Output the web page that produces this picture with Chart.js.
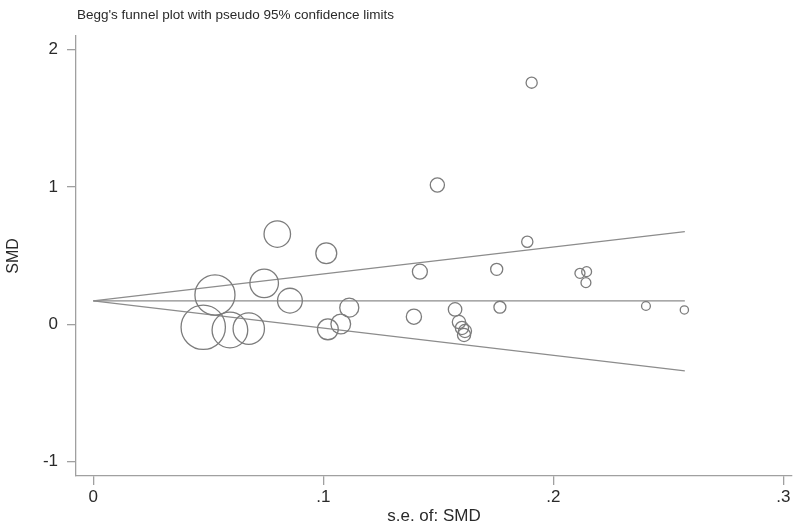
<!DOCTYPE html>
<html>
<head>
<meta charset="utf-8">
<title>Begg's funnel plot</title>
<script src="https://cdn.jsdelivr.net/npm/chart.js@4.4.0/dist/chart.umd.min.js"></script>
<style>
  html, body { margin: 0; padding: 0; background: #fff; }
  #wrap { width: 800px; height: 527px; }
</style>
</head>
<body>
<div id="wrap"><canvas id="funnel" width="800" height="527"></canvas></div>
<script>
// datos (s.e. of SMD vs SMD), un estudio por posicion
const seValues = [
  0.0478, 0.0529, 0.0594, 0.0676, 0.0743, 0.0800, 0.0855,
  0.1013, 0.1020, 0.1076, 0.1113, 0.1394, 0.1420, 0.1496,
  0.1573, 0.1590, 0.1603, 0.1616, 0.1612, 0.1754, 0.1768,
  0.1887, 0.1906, 0.2116, 0.2145, 0.2142, 0.2403, 0.2570,
];
const smdValues = [
  -0.021, 0.214, -0.041, -0.031, 0.299, 0.658, 0.173,
  0.518, -0.036, 0.003, 0.122, 0.056, 0.384, 1.015,
  0.109, 0.017, -0.026, -0.048, -0.077, 0.401, 0.125,
  0.602, 1.760, 0.372, 0.384, 0.304, 0.134, 0.105,
];

// limites pseudo 95% (extremos)
const limitSE = [0, 0.2572];
const centerSMD = [0.171, 0.171];
const upperSMD = [0.171, 0.675];
const lowerSMD = [0.171, -0.339];

const xTicks = [0, 0.1, 0.2, 0.3];
const yTicks = [-1, 0, 1, 2];

const chartTitle = "Begg's funnel plot with pseudo 95% confidence limits";
const xTitle = "s.e. of: SMD";
const yTitle = "SMD";

const FONT = '"Liberation Sans", Arial, sans-serif';
const TEXT = "#2a2a2a";
const AXIS = "#a0a0a0";
const LINE = "#8c8c8c";
const MARK = "#7c7c7c";

function toPoints(xs, ys) {
  return xs.map((x, i) => ({ x, y: ys[i] }));
}

function tickLabel(v) {
  // estilo stata: ".1" en vez de "0.1"
  if (v === 0) return "0";
  const s = String(Math.round(v * 10) / 10);
  return s.replace(/^0\./, ".").replace(/^-0\./, "-.");
}

function limitLine(ys) {
  return {
    type: "line",
    data: toPoints(limitSE, ys),
    borderColor: LINE,
    borderWidth: 1.2,
    pointRadius: 0,
    fill: false,
    tension: 0,
  };
}

// titulo arriba a la izquierda, alineado con el eje
const titlePlugin = {
  id: "stataTitle",
  afterDraw(chart) {
    const ctx = chart.ctx;
    ctx.save();
    ctx.font = "13.5px " + FONT;
    ctx.fillStyle = TEXT;
    ctx.textBaseline = "middle";
    ctx.textAlign = "left";
    ctx.fillText(chartTitle, chart.chartArea.left + 1, 15);
    ctx.restore();
  },
};

const ctx = document.getElementById("funnel").getContext("2d");

new Chart(ctx, {
  type: "scatter",
  data: {
    datasets: [
      {
        label: "studies",
        data: toPoints(seValues, smdValues),
        backgroundColor: "rgba(0,0,0,0)",
        borderColor: MARK,
        borderWidth: 1.3,
        // tamano segun el peso (1/se)
        pointRadius: (c) => (c.raw ? 1.06 / c.raw.x : 3),
        pointHoverRadius: (c) => (c.raw ? 1.06 / c.raw.x : 3),
      },
      limitLine(centerSMD),
      limitLine(upperSMD),
      limitLine(lowerSMD),
    ],
  },
  options: {
    responsive: false,
    animation: false,
    events: [],
    // sin autoPadding: el circulo grande agregaba 23px a la derecha
    layout: {
      autoPadding: false,
      padding: { top: 36, right: 8, left: 0, bottom: 0 },
    },
    plugins: {
      legend: { display: false },
      tooltip: { enabled: false },
      title: { display: false },
    },
    scales: {
      x: {
        type: "linear",
        min: -0.00752,
        max: 0.3038,
        afterBuildTicks: (scale) => {
          scale.ticks = xTicks.map((v) => ({ value: v }));
        },
        afterFit: (scale) => {
          scale.height = 51;
          scale.paddingLeft = 0;
          scale.paddingRight = 0;
        },
        grid: {
          drawOnChartArea: false,
          drawTicks: true,
          tickLength: 9,
          tickColor: AXIS,
          lineWidth: 1.3,
        },
        border: { display: true, color: AXIS, width: 1.3 },
        ticks: {
          padding: 2,
          color: TEXT,
          font: { family: FONT, size: 17 },
          maxRotation: 0,
          callback: (v) => tickLabel(v),
        },
        title: {
          display: true,
          text: xTitle,
          color: TEXT,
          font: { family: FONT, size: 17 },
          padding: { top: 0, bottom: 0 },
        },
      },
      y: {
        type: "linear",
        min: -1.104,
        max: 2.1,
        afterBuildTicks: (scale) => {
          scale.ticks = yTicks.map((v) => ({ value: v }));
        },
        afterFit: (scale) => {
          scale.width = 76;
          scale.paddingTop = 0;
          scale.paddingBottom = 0;
        },
        grid: {
          drawOnChartArea: false,
          drawTicks: true,
          tickLength: 9,
          tickColor: AXIS,
          lineWidth: 1.3,
        },
        border: { display: true, color: AXIS, width: 1.3 },
        ticks: {
          padding: 9,
          color: TEXT,
          font: { family: FONT, size: 17 },
          callback: (v) => tickLabel(v),
        },
        title: {
          display: true,
          text: yTitle,
          color: TEXT,
          font: { family: FONT, size: 16 },
          padding: 4,
        },
      },
    },
  },
  plugins: [titlePlugin],
});
</script>
</body>
</html>
